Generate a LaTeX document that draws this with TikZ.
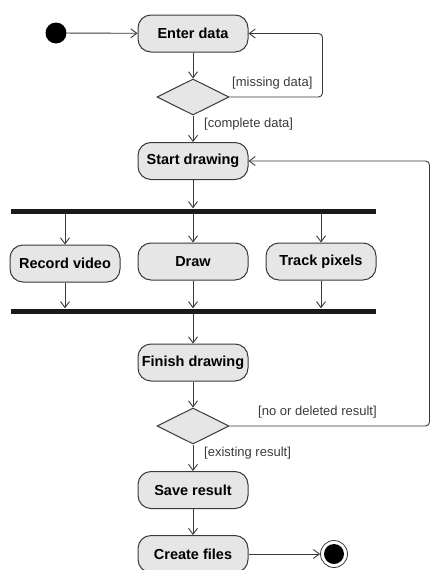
\documentclass[tikz,border=0pt]{standalone}
\usepackage{fontspec}
\setmainfont{Liberation Sans}
\usetikzlibrary{arrows.meta,shapes.geometric}
\definecolor{umlLine}{HTML}{3A3A3A}
\definecolor{umlFill}{HTML}{E6E6E6}
\definecolor{umlBar}{HTML}{1A1A1A}

\begin{document}
\begin{tikzpicture}[
  x=1pt, y=-1pt,
  font=\fontsize{14.5}{17}\selectfont\bfseries,
  act/.style={draw=umlLine, line width=1pt, rounded corners=13pt, fill=umlFill,
              minimum width=110pt, minimum height=37pt, inner sep=2pt, text=black},
  choice/.style={diamond, draw=umlLine, line width=1pt, fill=umlFill,
                 minimum width=72pt, minimum height=36pt, inner sep=0pt},
  bar/.style={fill=umlBar, minimum width=365pt, minimum height=5pt, inner sep=0pt},
  guard/.style={font=\fontsize{13}{15}\selectfont, anchor=west, inner sep=0pt, text=umlLine},
  initial/.style={circle, fill=black, minimum size=21pt, inner sep=0pt},
  final/.style={circle, draw=umlLine, line width=0.8pt, fill=white, minimum size=27pt, inner sep=0pt,
                path picture={\fill[black] (path picture bounding box.center) circle (10pt);}},
  flow/.style={draw=umlLine, line width=0.9pt, -{Straight Barb[length=6pt,width=9pt]}}
]
  \useasboundingbox (0,0) rectangle (430,570);

  \node[initial] (init) at (56,33) {};
  \node[act] (enter) at (193,33.5) {Enter data};
  \node[choice] (dec1) at (193,97) {};
  \node[act] (start) at (193,161) {Start drawing};
  \node[bar] (fork) at (193.5,211) {};
  \node[act] (rec) at (65,263.5) {Record video};
  \node[act] (drw) at (193,261.5) {Draw};
  \node[act] (track) at (321,261.5) {Track pixels};
  \node[bar] (join) at (193.5,311) {};
  \node[act] (finish) at (193,362.5) {Finish drawing};
  \node[choice] (dec2) at (193,426) {};
  \node[act] (save) at (193,490) {Save result};
  \node[act] (files) at (193,554) {Create files};
  \node[final] (stop) at (334,554) {};

  % guards
  \node[guard] (gMiss) at (232,83) {[missing data]};
  \node[guard] (gDone) at (204,124) {[complete data]};
  \node[guard] (gRedo) at (258,412) {[no or deleted result]};
  \node[guard] (gKeep) at (204,453) {[existing result]};

  \draw[flow] (init) -- (enter);
  \draw[flow] (enter) -- (dec1);
  \draw[flow] (dec1) -- (start);
  \draw[flow, rounded corners=4pt] (dec1.east) -- ++(93,0) |- (enter.east);
  \draw[flow] (start.south) -- (start.south |- fork.north);
  \foreach \n in {rec,drw,track} {
    \draw[flow] (fork.south -| \n.north) -- (\n.north);
    \draw[flow] (\n.south) -- (\n.south |- join.north);
  }
  \draw[flow] (join.south -| finish.north) -- (finish.north);
  \draw[flow] (finish) -- (dec2);
  \draw[flow, rounded corners=4pt] (dec2.east) -- ++(200,0) |- (start.east);
  \draw[flow] (dec2) -- (save);
  \draw[flow] (save) -- (files);
  \draw[flow] (files) -- (stop);
\end{tikzpicture}
\end{document}
